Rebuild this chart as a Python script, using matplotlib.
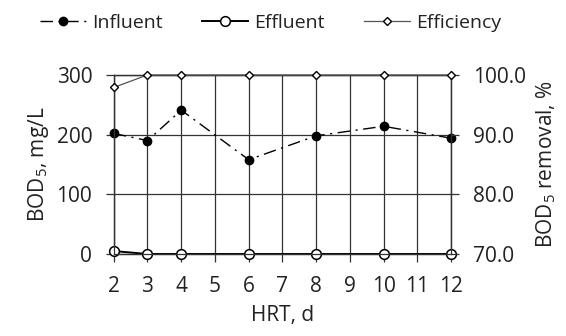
import numpy as np
import matplotlib.pyplot as plt
from matplotlib.ticker import FormatStrFormatter

plt.rcParams['font.family'] = ['Open Sans', 'DejaVu Sans']
plt.rcParams['mathtext.fontset'] = 'custom'
plt.rcParams['mathtext.rm'] = 'Open Sans'

# datos
hrt = [2, 3, 4, 6, 8, 10, 12]
influent = [202, 190, 241, 158, 198, 214, 194]
effluent = [5, 0, 0, 0, 0, 0, 0]
efficiency = [97.9, 100, 100, 100, 100, 100, 100]

fig = plt.figure(figsize=(5.66, 3.36), dpi=100)
ax = fig.add_axes([0.201, 0.244, 0.596, 0.533])
ax2 = ax.twinx()

grid_c = '#333333'
ax.set_xlim(2, 12)
ax.set_ylim(0, 300)
ax.set_xticks(range(2, 13))
ax.set_yticks([0, 100, 200, 300])
ax.grid(True, color=grid_c, lw=0.9)
ax.set_axisbelow(True)

ax2.set_ylim(70, 100)
ax2.set_yticks([70, 80, 90, 100])
ax2.yaxis.set_major_formatter(FormatStrFormatter('%.1f'))

for a in (ax, ax2):
    for s in a.spines.values():
        s.set_color(grid_c)
        s.set_linewidth(0.9)
    a.tick_params(direction='out', length=5.5, width=0.9, color=grid_c,
                  labelsize=15, pad=10, labelcolor='#222222')

l1, = ax.plot(hrt, influent, color='black', ls=(0, (9, 4, 1.5, 4)), lw=1.0,
              marker='o', ms=6, mfc='black', mec='black', clip_on=False, zorder=4)
l2, = ax.plot(hrt, effluent, color='black', ls='-', lw=1.4,
              marker='o', ms=7, mfc='white', mec='black', mew=1.1, clip_on=False, zorder=4)
l3, = ax2.plot(hrt, efficiency, color='#555555', ls='-', lw=0.9,
               marker='D', ms=4.5, mfc='white', mec='black', mew=1.0, clip_on=False, zorder=4)

ax.set_xlabel('HRT, d', fontsize=15, labelpad=6, color='#222222')
ax.set_ylabel('BOD$_5$, mg/L', fontsize=15, labelpad=4, color='#222222')
ax2.set_ylabel('BOD$_5$ removal, %', fontsize=15, labelpad=6, color='#222222')

fig.legend([l1, l2, l3], ['Influent', 'Effluent', 'Efficiency'],
           loc='upper center', bbox_to_anchor=(0.478, 1.01), ncol=3, frameon=False,
           fontsize=14, handlelength=2.4, handletextpad=0.3, columnspacing=2.0,
           labelcolor='#222222')

fig.savefig('out.png', dpi=100)
